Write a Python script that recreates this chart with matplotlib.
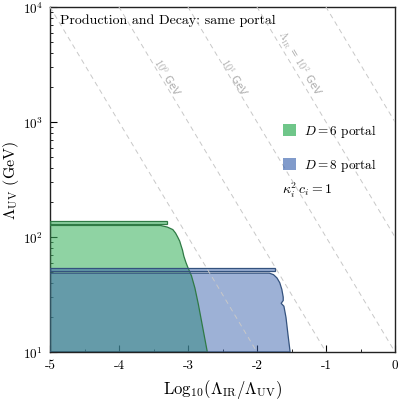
import numpy as np
import matplotlib
matplotlib.use("Agg")
import matplotlib.pyplot as plt
from matplotlib.patches import Patch

plt.rcParams['mathtext.fontset'] = 'cm'
plt.rcParams['font.family'] = 'serif'
plt.rcParams['font.serif'] = ['cmr10', 'DejaVu Serif']
plt.rcParams['axes.unicode_minus'] = False
plt.rcParams['axes.formatter.use_mathtext'] = True

# ---- data (x = log10(L_IR/L_UV), y = L_UV in GeV) ----
green_body_x = [-5.0, -3.40, -3.30, -3.22, -3.18, -3.15, -3.12, -3.10, -3.08, -3.06, -3.03, -3.00, -2.95, -2.90, -2.85, -2.80, -2.72, -5.0]
green_body_y = [126, 126, 122, 116, 108, 100, 92, 84, 77, 68, 60, 54, 46, 36, 26, 18, 10, 10]
green_strip_x = [-5.0, -3.30, -3.30, -5.0]
green_strip_y = [137, 137, 130, 130]

blue_body_x = [-5.0, -1.82, -1.76, -1.71, -1.67, -1.64, -1.62, -1.62, -1.65, -1.61, -1.58, -1.55, -1.52, -5.0]
blue_body_y = [48.5, 48.5, 47, 44, 40, 35, 30, 28, 26.5, 25, 20, 14, 10, 10]
blue_strip_x = [-5.0, -1.74, -1.74, -5.0]
blue_strip_y = [53.5, 53.5, 51, 51]

ir_scales = [-1, 0, 1, 2, 3]          # log10(Lambda_IR / GeV) of dashed lines
ir_labels = {0: r'$10^0$ GeV', 1: r'$10^1$ GeV', 2: r'$\Lambda_{\rm IR}$ = $10^2$ GeV'}
ir_label_pos = {0: (-3.29, 10**3.40), 1: (-2.32, 10**3.40), 2: (-1.38, 10**3.52)}

xticks = [-5, -4, -3, -2, -1, 0]
xticklabels = ['-5', '-4', '-3', '-2', '-1', '0']

fig = plt.figure(figsize=(3.99, 4.02), dpi=100)
ax = fig.add_axes([50/399, 1-353/402, 345/399, 345/402])
ax.set_yscale('log')
ax.set_xlim(-5, 0)
ax.set_ylim(10, 1e4)

green_c = (63/255, 180/255, 97/255)
blue_c = (61/255, 101/255, 175/255)
green_e = '#2f7a45'
blue_e = '#34527e'

for xs, ys in [(green_strip_x, green_strip_y), (green_body_x, green_body_y)]:
    ax.fill(xs, ys, facecolor=green_c, alpha=0.58, edgecolor='none', zorder=2)
    ax.fill(xs, ys, facecolor='none', edgecolor=green_e, lw=0.9, zorder=3)
for xs, ys in [(blue_strip_x, blue_strip_y), (blue_body_x, blue_body_y)]:
    ax.fill(xs, ys, facecolor=blue_c, alpha=0.5, edgecolor='none', zorder=2.5)
    ax.fill(xs, ys, facecolor='none', edgecolor=blue_e, lw=0.9, zorder=3)

xx = np.linspace(-5, 0, 200)
for s in ir_scales:
    ax.plot(xx, 10**(s - xx), ls=(0, (5, 4)), color='#c8c8c8', lw=0.7, zorder=4)

# angle of lines in display coords
fig.canvas.draw()
p1 = ax.transData.transform((-4, 10**3))
p2 = ax.transData.transform((-3, 10**2))
ang = np.degrees(np.arctan2(p2[1]-p1[1], p2[0]-p1[0]))
for s, lab in ir_labels.items():
    x, y = ir_label_pos[s]
    ax.text(x, y, lab, rotation=ang, ha='center', va='center', color='#adadad',
            fontsize=7.5, family='DejaVu Sans', rotation_mode='anchor', zorder=5)

ax.text(0.03, 0.982, 'Production and Decay: same portal', transform=ax.transAxes,
        fontsize=10, va='top', ha='left')

handles = [Patch(facecolor=green_c, alpha=0.75, edgecolor='none', label=r'$D=6$ portal'),
           Patch(facecolor=blue_c, alpha=0.65, edgecolor='none', label=r'$D=8$ portal')]
leg = ax.legend(handles=handles, loc='upper left', bbox_to_anchor=(0.655, 0.685),
                frameon=False, fontsize=9.5, handlelength=1.0, handleheight=1.0,
                labelspacing=1.3, handletextpad=0.6, borderpad=0)
ax.text(0.672, 0.47, r'$\kappa_i^2\, c_i = 1$', transform=ax.transAxes, fontsize=10,
        va='center', ha='left')

ax.set_xticks(xticks)
ax.set_xticklabels(xticklabels)
ax.set_xticks(np.arange(-4.5, 0, 1.0), minor=True)
ax.tick_params(which='both', direction='in', labelsize=9.5)
ax.tick_params(which='major', length=5, pad=5)
ax.tick_params(which='minor', length=2.5)
ax.set_xlabel(r'$\mathrm{Log}_{10}(\Lambda_{\rm IR}/\Lambda_{\rm UV})$', fontsize=12, labelpad=4)
ax.set_ylabel(r'$\Lambda_{\rm UV}$ (GeV)', fontsize=11.5, va='center')
ax.yaxis.set_label_coords(-0.112, 0.5)
for sp in ax.spines.values():
    sp.set_linewidth(1.0)
    sp.set_color('#222222')

fig.savefig('out.png', dpi=100)
